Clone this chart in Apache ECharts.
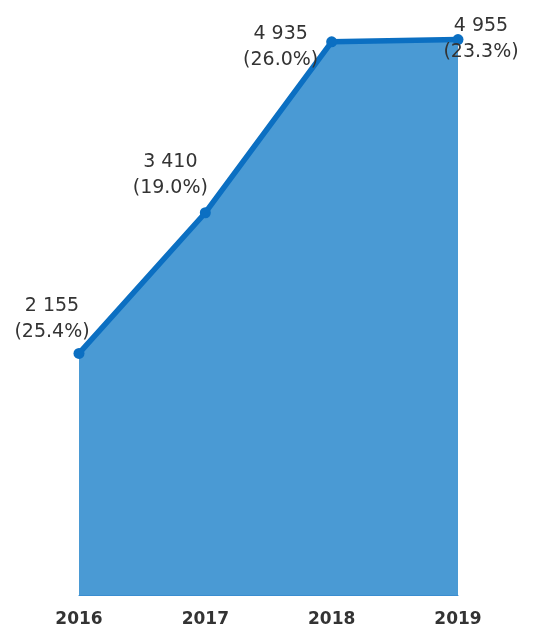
<!DOCTYPE html>
<html>
<head>
<meta charset="utf-8">
<script src="https://cdn.jsdelivr.net/npm/echarts@6/dist/echarts.min.js"></script>
<style>
  html, body { margin: 0; padding: 0; background: #fff; }
  #chart { width: 533px; height: 628px; }
</style>
</head>
<body>
<div id="chart"></div>
<script>
const annees = ['2016', '2017', '2018', '2019'];
const valeurs = [2155, 3410, 4935, 4955];
const parts = ['25.4%', '19.0%', '26.0%', '23.3%'];
// decalage des etiquettes [dx, dy] pour chaque point
const decalages = [[-27, 3], [-35, 0], [-51, 43], [23, 37]];

let graphique;

function formatNombre(v) {
    return String(v).replace(/\B(?=(\d{3})+(?!\d))/g, ' ');
}

function init() {
    graphique = echarts.init(document.getElementById('chart'));

    let donnees = valeurs.map((v, i) => ({
        value: v,
        label: { offset: decalages[i] }
    }));

    let options = {
        animation: false,
        grid: { left: 79, right: 75, top: 34.5, bottom: 32 },
        xAxis: {
            type: 'category',
            data: annees,
            boundaryGap: false,
            axisTick: { show: false },
            axisLine: { lineStyle: { color: '#3a8dd0', width: 1 } },
            axisLabel: {
                color: '#333',
                fontFamily: 'DejaVu Sans',
                fontWeight: 'bold',
                fontSize: 17,
                margin: 16
            }
        },
        yAxis: {
            type: 'value',
            min: 0,
            max: 5000,
            show: false,
            splitLine: { show: false }
        },
        series: [
            {
                type: 'line',
                data: donnees,
                symbol: 'circle',
                symbolSize: 11,
                itemStyle: { color: '#0b6fc2' },
                lineStyle: { color: '#0b6fc2', width: 5.5 },
                areaStyle: { color: '#4a9ad4', opacity: 1 },
                label: {
                    show: true,
                    position: 'top',
                    distance: 6,
                    color: '#333',
                    fontFamily: 'DejaVu Sans',
                    fontSize: 19,
                    lineHeight: 26,
                    align: 'center',
                    formatter: p => formatNombre(valeurs[p.dataIndex]) + '\n(' + parts[p.dataIndex] + ')'
                }
            }
        ]
    };

    graphique.setOption(options);
}

init();
</script>
</body>
</html>
